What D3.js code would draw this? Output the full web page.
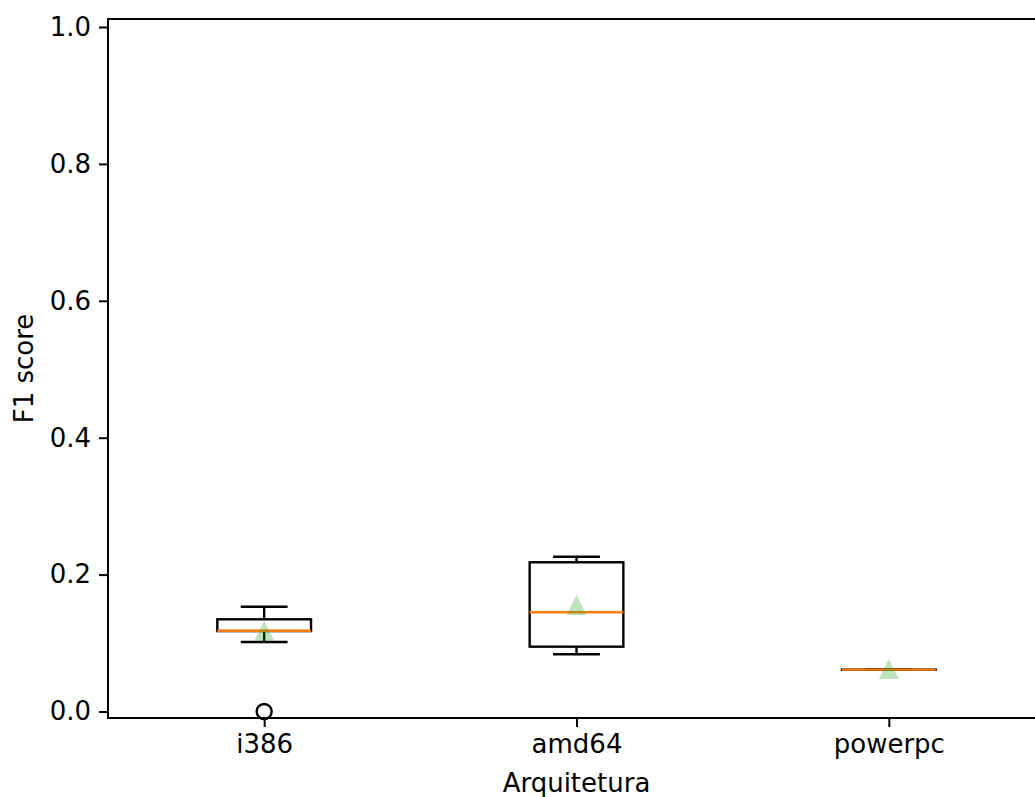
<!DOCTYPE html>
<html>
<head>
<meta charset="utf-8">
<script src="https://cdn.jsdelivr.net/npm/d3@7"></script>
<style>
  body { margin: 0; background: #fff; }
  text { font-family: "DejaVu Sans", sans-serif; fill: #000; }
</style>
</head>
<body>
<div id="chart"></div>
<script>
// dados
const categories = ['i386', 'amd64', 'powerpc'];
const whiskerLow = [0.1015, 0.0836, 0.0612];
const q1 = [0.1175, 0.0947, 0.0612];
const medians = [0.118, 0.145, 0.0612];
const q3 = [0.1347, 0.218, 0.0612];
const whiskerHigh = [0.153, 0.226, 0.0612];
const means = [0.118, 0.1556, 0.062];
const fliers = [[0.0], [], []];
const yTicks = [0.0, 0.2, 0.4, 0.6, 0.8, 1.0];

let config = {
  div: '#chart',
  width: 1035,
  height: 797,
  left: 108,
  right: 1045,
  top: 19,
  bottom: 718,
  fontSize: 26
};

const svg = d3.select(config.div)
  .append('svg')
  .attr('width', config.width)
  .attr('height', config.height);

// escalas
const xScale = d3.scaleLinear()
  .domain([0.5, 3.5])
  .range([config.left, config.right]);
const yScale = d3.scaleLinear()
  .domain([-0.0095, 1.0117])
  .range([config.bottom, config.top]);

const boxW = xScale(0.3) - xScale(0);
const capW = xScale(0.15) - xScale(0);

// spines
svg.append('rect')
  .attr('x', config.left)
  .attr('y', config.top)
  .attr('width', config.right - config.left)
  .attr('height', config.bottom - config.top)
  .attr('fill', 'none')
  .attr('stroke', '#000')
  .attr('stroke-width', 2);

// eixo Y
const yAxis = svg.append('g')
  .attr('transform', `translate(${config.left},0)`)
  .call(d3.axisLeft(yScale)
    .tickValues(yTicks)
    .tickFormat(d3.format('.1f'))
    .tickSize(9)
    .tickSizeOuter(0)
    .tickPadding(8));
yAxis.select('.domain').remove();
yAxis.selectAll('line').attr('stroke-width', 2);
yAxis.selectAll('text')
  .attr('font-size', config.fontSize)
  .style('font-family', '"DejaVu Sans", sans-serif');

// eixo X
const xAxis = svg.append('g')
  .attr('transform', `translate(0,${config.bottom})`)
  .call(d3.axisBottom(xScale)
    .tickValues([1, 2, 3])
    .tickFormat((d, i) => categories[i])
    .tickSize(9)
    .tickSizeOuter(0)
    .tickPadding(8));
xAxis.select('.domain').remove();
xAxis.selectAll('line').attr('stroke-width', 2);
xAxis.selectAll('text')
  .attr('font-size', config.fontSize)
  .style('font-family', '"DejaVu Sans", sans-serif');

// titulos dos eixos
svg.append('text')
  .attr('x', (config.left + config.right) / 2)
  .attr('y', 792)
  .attr('text-anchor', 'middle')
  .attr('font-size', config.fontSize)
  .text('Arquitetura');

svg.append('text')
  .attr('transform', `translate(33,${(config.top + config.bottom) / 2}) rotate(-90)`)
  .attr('text-anchor', 'middle')
  .attr('font-size', config.fontSize)
  .text('F1 score');

// caixas
const boxes = svg.append('g').selectAll('g')
  .data(categories)
  .enter()
  .append('g');

boxes.each(function (d, i) {
  const g = d3.select(this);
  const cx = xScale(i + 1);
  const lw = 2.4;
  // whiskers
  g.append('line')
    .attr('x1', cx).attr('x2', cx)
    .attr('y1', yScale(q1[i])).attr('y2', yScale(whiskerLow[i]))
    .attr('stroke', '#000').attr('stroke-width', lw);
  g.append('line')
    .attr('x1', cx).attr('x2', cx)
    .attr('y1', yScale(q3[i])).attr('y2', yScale(whiskerHigh[i]))
    .attr('stroke', '#000').attr('stroke-width', lw);
  // caps
  [whiskerLow[i], whiskerHigh[i]].forEach(v => {
    g.append('line')
      .attr('x1', cx - capW / 2).attr('x2', cx + capW / 2)
      .attr('y1', yScale(v)).attr('y2', yScale(v))
      .attr('stroke', '#000').attr('stroke-width', lw);
  });
  // box
  g.append('rect')
    .attr('x', cx - boxW / 2)
    .attr('y', yScale(q3[i]))
    .attr('width', boxW)
    .attr('height', Math.max(0.01, yScale(q1[i]) - yScale(q3[i])))
    .attr('fill', 'none')
    .attr('stroke', '#000')
    .attr('stroke-width', lw);
  // mediana
  g.append('line')
    .attr('x1', cx - boxW / 2).attr('x2', cx + boxW / 2)
    .attr('y1', yScale(medians[i])).attr('y2', yScale(medians[i]))
    .attr('stroke', '#ff7f0e').attr('stroke-width', lw);
  // outliers
  fliers[i].forEach(v => {
    g.append('circle')
      .attr('cx', cx).attr('cy', yScale(v))
      .attr('r', 7.5)
      .attr('fill', 'none')
      .attr('stroke', '#000')
      .attr('stroke-width', 2.4);
  });
  // media (triangulo)
  const my = yScale(means[i]);
  const s = 10;
  g.append('path')
    .attr('d', `M${cx},${my - s} L${cx - s},${my + s} L${cx + s},${my + s} Z`)
    .attr('fill', '#2ca02c')
    .attr('fill-opacity', 0.3);
});
</script>
</body>
</html>
